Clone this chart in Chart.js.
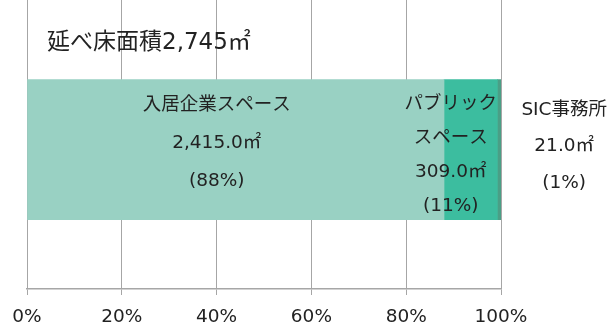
<!DOCTYPE html>
<html lang="ja">
<head>
<meta charset="utf-8">
<script src="https://cdn.jsdelivr.net/npm/chart.js@4"></script>
<style>
  html, body { margin: 0; padding: 0; background: #fff; }
  #wrap { width: 611px; height: 329px; position: relative; }
</style>
</head>
<body>
<div id="wrap"><canvas id="chart"></canvas></div>
<script>
// 延べ床面積の内訳
const spaceNames = [['入居企業スペース'], ['パブリック', 'スペース'], ['SIC事務所']];
const spaceAreas = [2415.0, 309.0, 21.0];
const spaceColors = ['#99d1c3', '#3cbd9f', '#4a9f86'];
const tickLabels = ['0%', '20%', '40%', '60%', '80%', '100%'];
const titleText = '延べ床面積';

// label placement per segment (px)
const labelStyles = [
  { labelDx: -19, labelDy: -6, lineGap: 38 },
  { labelDx: -20, labelDy: 6, lineGap: 34 },
  { labelDx: 65, labelDy: -3, lineGap: 36.5 }
];

const totalArea = spaceAreas.reduce((a, b) => a + b, 0);
const shares = spaceAreas.map((v) => (v / totalArea) * 100);

const fmtArea = (v, d) =>
  v.toLocaleString('en-US', { minimumFractionDigits: d, maximumFractionDigits: d });

const textColor = '#222';
const fontFamily = '"DejaVu Sans", "Noto Sans CJK JP", sans-serif';

const segmentLabels = {
  id: 'segmentLabels',
  afterDatasetsDraw(chart) {
    const ctx = chart.ctx;
    ctx.save();
    ctx.fillStyle = textColor;
    ctx.textAlign = 'center';
    ctx.textBaseline = 'middle';
    ctx.font = '18.5px ' + fontFamily;
    chart.data.datasets.forEach((ds, i) => {
      const bar = chart.getDatasetMeta(i).data[0];
      const lines = spaceNames[i].concat([
        fmtArea(spaceAreas[i], 1) + '㎡',
        '(' + Math.round(shares[i]) + '%)'
      ]);
      const cx = (bar.x + bar.base) / 2 + ds.labelDx;
      const cy = bar.y + ds.labelDy;
      const top = cy - ((lines.length - 1) * ds.lineGap) / 2;
      lines.forEach((t, k) => ctx.fillText(t, cx, top + k * ds.lineGap));
    });
    // chart title inside the plot
    ctx.textAlign = 'left';
    ctx.font = '23px ' + fontFamily;
    ctx.fillText(titleText + fmtArea(totalArea, 0) + '㎡', chart.chartArea.left + 20, 43);
    ctx.restore();
  }
};

new Chart(document.getElementById('chart'), {
  type: 'bar',
  data: {
    datasets: spaceAreas.map((v, i) => ({
      label: spaceNames[i].join(''),
      data: [{ x: shares[i], y: 0 }],
      backgroundColor: spaceColors[i],
      borderWidth: 0,
      barThickness: 140,
      ...labelStyles[i]
    }))
  },
  options: {
    indexAxis: 'y',
    responsive: true,
    maintainAspectRatio: false,
    animation: false,
    layout: { padding: { left: 27, right: 110, top: 0, bottom: 2 } },
    plugins: { legend: { display: false }, tooltip: { enabled: false } },
    scales: {
      x: {
        type: 'linear',
        stacked: true,
        min: 0,
        max: 100,
        afterFit: (scale) => { scale.height = 38; },
        ticks: {
          stepSize: 20,
          padding: 11,
          color: textColor,
          font: { family: fontFamily, size: 18.5 },
          callback: (v, i) => tickLabels[i]
        },
        grid: { color: '#a6a6a6', tickLength: 6, tickColor: '#a6a6a6' },
        border: { color: '#a6a6a6', width: 1.5 }
      },
      y: { type: 'linear', stacked: true, display: false, min: -0.926, max: 1 }
    }
  },
  plugins: [segmentLabels]
});
</script>
</body>
</html>
